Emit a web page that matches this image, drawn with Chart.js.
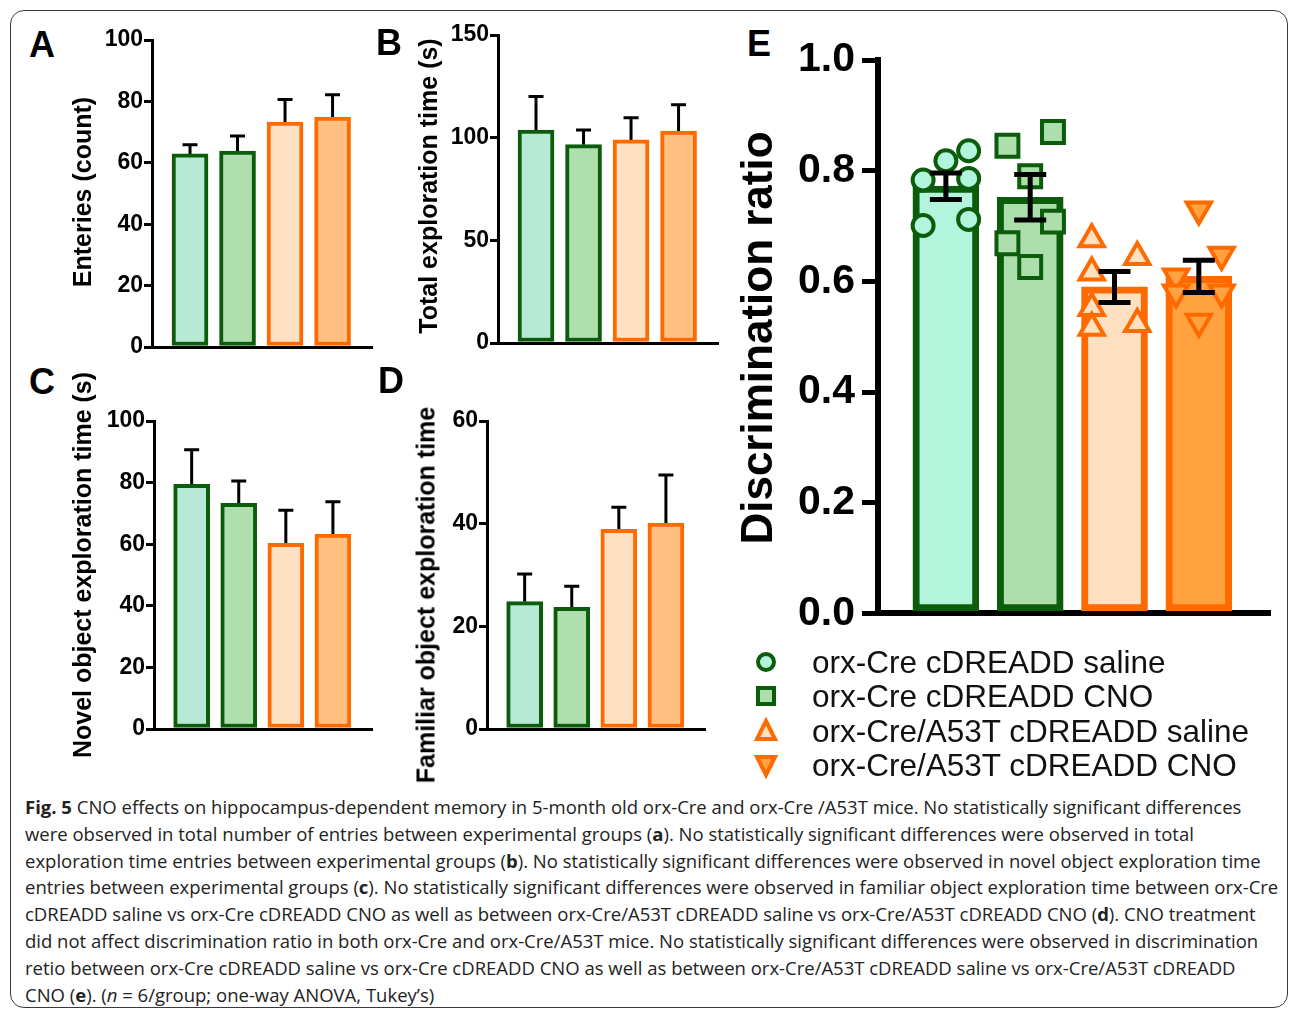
<!DOCTYPE html>
<html>
<head>
<meta charset="utf-8">
<script src="https://cdn.jsdelivr.net/npm/chart.js@4.4.0/dist/chart.umd.min.js"></script>
<style>
  body { margin: 0; width: 1290px; height: 1012px; background: #fff; position: relative; overflow: hidden;
         font-family: "Liberation Sans", Arial, sans-serif; }
  .frame { position: absolute; left: 10px; top: 10px; width: 1276px; height: 996px;
           border: 1.5px solid #3a3a3a; border-radius: 14px; }
  canvas { position: absolute; }
  .letter { position: absolute; font-weight: bold; font-size: 36px; line-height: 1; color: #000; }
  .ytitle { position: absolute; font-weight: bold; font-size: 25px; line-height: 1; white-space: nowrap;
            transform: translate(-50%, -50%) rotate(-90deg); color: #000; }
  .legend-row { position: absolute; left: 752px; height: 34px; display: flex; align-items: center; }
  .legend-row span { position: absolute; left: 60px; font-size: 31.5px; white-space: nowrap; color: #111; }
  .caption { position: absolute; left: 25px; top: 794px; font-family: "Open Sans", sans-serif; font-size: 18.5px;
             line-height: 26.8px; color: #222; white-space: nowrap; }
</style>
</head>
<body>
<div class="frame"></div>

<canvas id="chartA"></canvas>
<canvas id="chartB"></canvas>
<canvas id="chartC"></canvas>
<canvas id="chartD"></canvas>
<canvas id="chartE"></canvas>

<div class="letter" style="left:29px; top:27px;">A</div>
<div class="letter" style="left:376px; top:25px;">B</div>
<div class="letter" style="left:29px; top:364px;">C</div>
<div class="letter" style="left:378px; top:363px;">D</div>
<div class="letter" style="left:747px; top:26px;">E</div>

<div class="ytitle" style="left:82px; top:192px;">Enteries (count)</div>
<div class="ytitle" style="left:428px; top:186px;">Total exploration time (s)</div>
<div class="ytitle" style="left:82px; top:565px;">Novel object exploration time (s)</div>
<div class="ytitle" style="left:426px; top:595px;">Familiar object exploration time</div>
<div class="ytitle" style="left:757px; top:338px; font-size:44px;">Discrimination ratio</div>

<div id="legend"></div>

<div class="caption">
  <div><b>Fig. 5</b> CNO effects on hippocampus-dependent memory in 5-month old orx-Cre and orx-Cre /A53T mice. No statistically significant differences</div>
  <div>were observed in total number of entries between experimental groups (<b>a</b>). No statistically significant differences were observed in total</div>
  <div>exploration time entries between experimental groups (<b>b</b>). No statistically significant differences were observed in novel object exploration time</div>
  <div>entries between experimental groups (<b>c</b>). No statistically significant differences were observed in familiar object exploration time between orx-Cre</div>
  <div>cDREADD saline vs orx-Cre cDREADD CNO as well as between orx-Cre/A53T cDREADD saline vs orx-Cre/A53T cDREADD CNO (<b>d</b>). CNO treatment</div>
  <div>did not affect discrimination ratio in both orx-Cre and orx-Cre/A53T mice. No statistically significant differences were observed in discrimination</div>
  <div>retio between orx-Cre cDREADD saline vs orx-Cre cDREADD CNO as well as between orx-Cre/A53T cDREADD saline vs orx-Cre/A53T cDREADD</div>
  <div>CNO (<b>e</b>). (<i>n</i> = 6/group; one-way ANOVA, Tukey’s)</div>
</div>

<script>
// groups, in plotting order
const groups = ['orx-Cre cDREADD saline', 'orx-Cre cDREADD CNO', 'orx-Cre/A53T cDREADD saline', 'orx-Cre/A53T cDREADD CNO'];
const groupPos = [1, 2, 3, 4];

// panel A - entries (mean, upper SEM)
const entriesMean = [62.9, 63.8, 73.3, 74.9];
const entriesErr = [3.0, 4.9, 7.3, 7.3];
// panel B - total exploration time
const totalMean = [103.7, 96.6, 98.9, 103.2];
const totalErr = [16.4, 7.1, 10.8, 12.8];
// panel C - novel object exploration time
const novelMean = [79.4, 73.3, 60.3, 63.3];
const novelErr = [11.3, 7.2, 10.7, 10.5];
// panel D - familiar object exploration time
const familiarMean = [24.8, 23.7, 38.9, 40.1];
const familiarErr = [5.4, 4.1, 4.3, 9.4];

// panel E - discrimination ratio (mean +/- SEM) and individual mice
const ratioMean = [0.772, 0.752, 0.590, 0.609];
const ratioErr = [0.024, 0.041, 0.028, 0.029];
const creSaline = [0.783, 0.818, 0.836, 0.786, 0.701, 0.712];
const creSalineJitter = [-0.27, 0, 0.27, 0.27, -0.27, 0.27];
const creCno = [0.845, 0.870, 0.790, 0.708, 0.669, 0.626];
const creCnoJitter = [-0.27, 0.27, 0, 0.27, -0.27, 0];
const a53tSaline = [0.676, 0.644, 0.616, 0.552, 0.516, 0.523];
const a53tSalineJitter = [-0.27, 0.27, -0.27, -0.27, -0.27, 0.27];
const a53tCno = [0.730, 0.648, 0.609, 0.580, 0.580, 0.527];
const a53tCnoJitter = [0, 0.27, -0.27, 0.27, -0.27, 0];

const FONT = '"Liberation Sans", Arial, sans-serif';
const darkGreen = '#0b5c0b';
const orange = '#ff6a00';
const edgeColors = [darkGreen, darkGreen, orange, orange];
const smallFill = ['#b6e9d6', '#b0dfae', '#fee0c2', '#ffc081'];
const bigFill = ['#b3f5dc', '#acdfac', '#ffe0c0', '#ffa23f'];
const XMIN = 0.2, XMAX = 4.83;

// error bars drawn with the chart's own scales
function drawErrors(chart, o) {
  const ctx = chart.ctx, x = chart.scales.x, y = chart.scales.y;
  ctx.save();
  ctx.strokeStyle = '#000';
  ctx.lineWidth = o.lineWidth;
  o.means.forEach((m, i) => {
    const px = x.getPixelForValue(groupPos[i]);
    const top = y.getPixelForValue(m + o.errs[i]);
    const bot = y.getPixelForValue(o.both ? m - o.errs[i] : m);
    ctx.beginPath();
    ctx.moveTo(px, bot);
    ctx.lineTo(px, top);
    ctx.moveTo(px - o.cap / 2, top);
    ctx.lineTo(px + o.cap / 2, top);
    if (o.both) {
      ctx.moveTo(px - o.cap / 2, bot);
      ctx.lineTo(px + o.cap / 2, bot);
    }
    ctx.stroke();
  });
  ctx.restore();
}
const errorBars = {
  id: 'errorBars',
  beforeDatasetsDraw(chart, args, opts) { if (opts.behind) drawErrors(chart, opts); },
  afterDatasetsDraw(chart, args, opts) { if (!opts.behind) drawErrors(chart, opts); }
};

function place(canvas, box) {
  canvas.width = box.w;
  canvas.height = box.h;
  canvas.style.left = box.left + 'px';
  canvas.style.top = box.top + 'px';
  canvas.style.width = box.w + 'px';
  canvas.style.height = box.h + 'px';
}

function smallPanel(id, box, area, yMax, step, means, errs) {
  const canvas = document.getElementById(id);
  place(canvas, box);
  new Chart(canvas, {
    type: 'bar',
    data: {
      datasets: [{
        data: groupPos.map((p, i) => ({ x: p, y: means[i] })),
        backgroundColor: smallFill,
        borderColor: edgeColors,
        borderWidth: 4,
        borderSkipped: false,
        barThickness: 36
      }]
    },
    options: {
      responsive: false,
      animation: false,
      devicePixelRatio: 1,
      layout: { padding: { left: 0, top: area.y0 - box.top, right: box.left + box.w - area.x1, bottom: 0 } },
      plugins: {
        legend: { display: false },
        tooltip: { enabled: false },
        errorBars: { means: means, errs: errs, both: false, behind: true, cap: 15, lineWidth: 3 }
      },
      scales: {
        x: {
          type: 'linear', min: XMIN, max: XMAX, offset: false,
          ticks: { display: false },
          grid: { display: true, offset: false, drawOnChartArea: false, drawTicks: false },
          border: { display: true, color: '#000', width: 3 },
          afterFit: s => { s.height = box.top + box.h - area.y1; }
        },
        y: {
          min: 0, max: yMax,
          ticks: { stepSize: step, color: '#000', padding: 1, font: { family: FONT, size: 23, weight: 'bold' } },
          grid: { drawOnChartArea: false, tickLength: 8, color: '#000', lineWidth: 3 },
          border: { display: true, color: '#000', width: 3 },
          afterFit: s => { s.width = area.x0 - box.left; }
        }
      }
    },
    plugins: [errorBars]
  });
}

smallPanel('chartA', { left: 60, top: 10, w: 325, h: 355 }, { x0: 152, x1: 372, y0: 40, y1: 347 }, 100, 20, entriesMean, entriesErr);
smallPanel('chartB', { left: 400, top: 10, w: 325, h: 355 }, { x0: 498, x1: 718, y0: 35, y1: 343 }, 150, 50, totalMean, totalErr);
smallPanel('chartC', { left: 60, top: 390, w: 325, h: 355 }, { x0: 154, x1: 372, y0: 421, y1: 729 }, 100, 20, novelMean, novelErr);
smallPanel('chartD', { left: 400, top: 390, w: 320, h: 355 }, { x0: 487, x1: 705, y0: 421, y1: 729 }, 60, 20, familiarMean, familiarErr);

// panel E
(function () {
  const box = { left: 780, top: 20, w: 510, h: 625 };
  const area = { x0: 878, x1: 1275, y0: 60, y1: 617 };
  const canvas = document.getElementById('chartE');
  place(canvas, box);
  const pts = (vals, jit, g) => vals.map((v, i) => ({ x: groupPos[g] + jit[i], y: v }));
  const scatter = (vals, jit, g, style, rot, r) => ({
    type: 'scatter',
    label: groups[g],
    data: pts(vals, jit, g),
    order: 1,
    pointStyle: style,
    rotation: rot,
    pointRadius: r,
    pointBackgroundColor: bigFill[g],
    pointBorderColor: edgeColors[g],
    pointBorderWidth: 4
  });
  new Chart(canvas, {
    type: 'bar',
    data: {
      datasets: [
        {
          type: 'bar',
          data: groupPos.map((p, i) => ({ x: p, y: ratioMean[i] })),
          order: 2,
          backgroundColor: bigFill,
          borderColor: edgeColors,
          borderWidth: 7,
          borderSkipped: false,
          barThickness: 66
        },
        scatter(creSaline, creSalineJitter, 0, 'circle', 0, 10.5),
        scatter(creCno, creCnoJitter, 1, 'rect', 0, 15.5),
        scatter(a53tSaline, a53tSalineJitter, 2, 'triangle', 0, 14),
        scatter(a53tCno, a53tCnoJitter, 3, 'triangle', 180, 14)
      ]
    },
    options: {
      responsive: false,
      animation: false,
      devicePixelRatio: 1,
      layout: { padding: { left: 0, top: area.y0 - box.top, right: box.left + box.w - area.x1, bottom: 0 } },
      plugins: {
        legend: { display: false },
        tooltip: { enabled: false },
        errorBars: { means: ratioMean, errs: ratioErr, both: true, behind: false, cap: 32, lineWidth: 5 }
      },
      scales: {
        x: {
          type: 'linear', min: 0.195, max: 4.85, offset: false,
          ticks: { display: false },
          grid: { display: true, offset: false, drawOnChartArea: false, drawTicks: false },
          border: { display: true, color: '#000', width: 6 },
          afterFit: s => { s.height = box.top + box.h - area.y1; }
        },
        y: {
          min: 0, max: 1,
          ticks: { stepSize: 0.2, color: '#000', padding: 7, font: { family: FONT, size: 41, weight: 'bold' },
                   callback: v => v.toFixed(1) },
          grid: { drawOnChartArea: false, tickLength: 16, color: '#000', lineWidth: 5 },
          border: { display: true, color: '#000', width: 6 },
          afterFit: s => { s.width = area.x0 - box.left; }
        }
      }
    },
    plugins: [errorBars]
  });
})();

// legend for panel E
const legendRows = [662, 696, 731, 765];
const markers = [
  '<circle cx="14" cy="14" r="8" fill="' + bigFill[0] + '" stroke="' + darkGreen + '" stroke-width="4"/>',
  '<rect x="6" y="6" width="16" height="16" fill="' + bigFill[1] + '" stroke="' + darkGreen + '" stroke-width="4"/>',
  '<polygon points="14,4 23,22 5,22" fill="' + bigFill[2] + '" stroke="' + orange + '" stroke-width="4" stroke-linejoin="miter"/>',
  '<polygon points="5,6 23,6 14,24" fill="' + bigFill[3] + '" stroke="' + orange + '" stroke-width="4" stroke-linejoin="miter"/>'
];
const legend = document.getElementById('legend');
groups.forEach((g, i) => {
  const row = document.createElement('div');
  row.className = 'legend-row';
  row.style.top = (legendRows[i] - 17) + 'px';
  row.innerHTML = '<svg width="28" height="28" viewBox="0 0 28 28">' + markers[i] + '</svg><span>' + g + '</span>';
  legend.appendChild(row);
});
</script>
</body>
</html>
